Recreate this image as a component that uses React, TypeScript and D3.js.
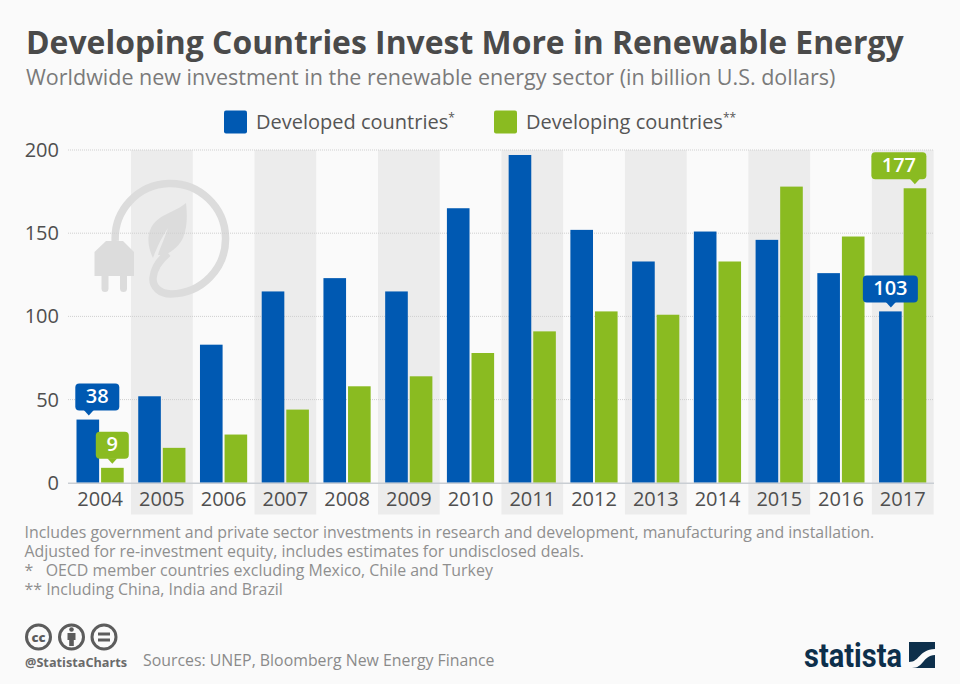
import * as d3 from "d3";

const years = ["2004", "2005", "2006", "2007", "2008", "2009", "2010", "2011", "2012", "2013", "2014", "2015", "2016", "2017"];
const developed = [38, 52, 83, 115, 123, 115, 165, 197, 152, 133, 151, 146, 126, 103];
const developing = [9, 21, 29, 44, 58, 64, 78, 91, 103, 101, 133, 178, 148, 177];
const yTicks = [0, 50, 100, 150, 200];
const seriesNames = ["developed", "developing"];
const noteLines = [
  "Includes government and private sector investments in research and development, manufacturing and installation.",
  "Adjusted for re-investment equity, includes estimates for undisclosed deals.",
  "*   OECD member countries excluding Mexico, Chile and Turkey",
  "** Including China, India and Brazil",
];

const BLUE = "#0059b2";
const GREEN = "#8abb21";
const FONT = "'Open Sans', sans-serif";

const x = d3.scaleBand().domain(years).range([69.3, 933.6]);
const xInner = d3.scaleBand().domain(seriesNames).range([7.2, 54.4]).paddingInner(0.08);
const y = d3.scaleLinear().domain([0, 200]).range([482.8, 150]);

// value callout with a small pointer underneath
const Callout = ({ cx, tipY, w, px, label, color }: { cx: number; tipY: number; w: number; px: number; label: string; color: string }) => {
  const h = 27;
  const top = tipY - 5 - h;
  return (
    <g>
      <rect x={cx - w / 2} y={top} width={w} height={h} rx={4} fill={color} />
      <path d={`M${px - 5},${top + h - 0.5}L${px},${tipY}L${px + 5},${top + h - 0.5}Z`} fill={color} />
      <text x={cx} y={top + 19.6} textAnchor="middle" fontSize={20} fontWeight={600} fill="#fff">{label}</text>
    </g>
  );
};

const PlugIcon = () => (
  <g fill="none" stroke="#dcdcdc">
    <path d="M115.2,241 A55.2,55.2 0 1 1 171,293.9 C160,294 152.5,287 153,278 C154,266 162,258 168,253" strokeWidth={7.5} />
    <path d="M186,203 C176,212 158,214 151,228 C146,238 149,250 153,258 C156,250 160,240 168,228 C164,240 160,248 158,255 C168,256 178,248 183,238 C188,226 187,212 186,203 Z" fill="#dcdcdc" stroke="none" />
    <path d="M94.5,276 L94.5,252 L106,241 L123,241 L134,252 L134,276 Z" fill="#dcdcdc" stroke="none" />
    <path d="M105,276 L105,288.5 M123.5,276 L123.5,288.5" strokeWidth={7} strokeLinecap="round" />
  </g>
);

const CcIcons = () => (
  <g stroke="#5c5c5c" fill="none" strokeWidth={3}>
    <circle cx={38.5} cy={637} r={12} />
    <circle cx={71.5} cy={637} r={12} />
    <circle cx={104} cy={637} r={12} />
    <text x={38.5} y={641.5} textAnchor="middle" fontSize={13} fontWeight={800} fill="#5c5c5c" stroke="none">cc</text>
    <circle cx={71.5} cy={629.5} r={2.3} fill="#5c5c5c" stroke="none" />
    <path d="M67.5,633 H75.5 V640 H73.8 V646 H69.2 V640 H67.5 Z" fill="#5c5c5c" stroke="none" />
    <path d="M98,634 H110 M98,640 H110" strokeWidth={3} />
  </g>
);

export default function App() {
  return (
    <svg width={960} height={684} style={{ position: "absolute", left: 0, top: 0, background: "#fafafa", fontFamily: FONT }}>
      <text x={26} y={53.5} fontSize={31.9} fontWeight={700} fill="#4a4a4a">Developing Countries Invest More in Renewable Energy</text>
      <text x={26} y={84.5} fontSize={21.5} fill="#7a7a7a">Worldwide new investment in the renewable energy sector (in billion U.S. dollars)</text>

      {/* legend */}
      <rect x={224} y={110.5} width={23} height={23} rx={2} fill={BLUE} />
      <text x={256} y={129} fontSize={20} fill="#555">Developed countries<tspan fontSize={12} dy={-7}>*</tspan></text>
      <rect x={494} y={110.5} width={23} height={23} rx={2} fill={GREEN} />
      <text x={526} y={129} fontSize={20} fill="#555">Developing countries<tspan fontSize={12} dy={-7}>**</tspan></text>

      {/* alternating year bands */}
      {years.map((yr, i) => i % 2 === 1 && (
        <rect key={yr} x={x(yr)} y={y(200)} width={x.bandwidth()} height={514.5 - y(200)} fill="#ececec" />
      ))}

      <PlugIcon />

      {/* y grid + labels */}
      {yTicks.map((t) => (
        <g key={t}>
          {t > 0 && <line x1={68} x2={934} y1={y(t)} y2={y(t)} stroke="#cfcfcf" strokeWidth={1} strokeDasharray="1 1" />}
          <text x={59} y={y(t) + 7} textAnchor="end" fontSize={20} fill="#4f4f4f">{t}</text>
        </g>
      ))}

      {/* bars */}
      {years.map((yr, i) => (
        <g key={yr}>
          <rect x={x(yr)! + xInner("developed")!} y={y(developed[i])} width={xInner.bandwidth()} height={y(0) - y(developed[i])} fill={BLUE} />
          <rect x={x(yr)! + xInner("developing")!} y={y(developing[i])} width={xInner.bandwidth()} height={y(0) - y(developing[i])} fill={GREEN} />
        </g>
      ))}
      <line x1={68} x2={934} y1={y(0) + 0.5} y2={y(0) + 0.5} stroke="#c9ced3" strokeWidth={1.5} />

      {/* x labels */}
      {years.map((yr) => (
        <text key={yr} x={x(yr)! + x.bandwidth() / 2} y={506} textAnchor="middle" fontSize={20} fill="#4f4f4f">{yr}</text>
      ))}

      {/* callouts */}
      <Callout cx={x("2004")! + 28} tipY={y(38) - 4} w={44} px={x("2004")! + 19.5} label="38" color={BLUE} />
      <Callout cx={x("2004")! + 43} tipY={y(9) - 4} w={33} px={x("2004")! + 43} label="9" color={GREEN} />
      <Callout cx={x("2017")! + 18.5} tipY={y(103) - 4} w={55} px={x("2017")! + 19} label="103" color={BLUE} />
      <Callout cx={x("2017")! + 27} tipY={y(177) - 4} w={55} px={x("2017")! + 43} label="177" color={GREEN} />

      {/* notes */}
      <text fontSize={15.9} fill="#8f8f8f" xmlSpace="preserve">
        {noteLines.map((l, i) => (
          <tspan key={i} x={24.5} y={538 + i * 19}>{l}</tspan>
        ))}
      </text>

      <CcIcons />
      <text x={25} y={667} fontSize={12.7} fontWeight={700} fill="#6a6a6a">@StatistaCharts</text>
      <text x={143} y={666} fontSize={15.87} fill="#8a8a8a">Sources: UNEP, Bloomberg New Energy Finance</text>

      {/* logo */}
      <text x={804} y={667} fontSize={33} fontWeight={700} fill="#0d2f4b" fontFamily="Roboto, sans-serif" textLength={98} lengthAdjust="spacingAndGlyphs">statista</text>
      <rect x={909} y={642} width={26} height={26} fill="#0d2f4b" />
      <path d="M909,662 C920,662 918,650 935,649 L935,655 C922,656 924,668 912,668 L909,668 Z" fill="#fafafa" />
    </svg>
  );
}
